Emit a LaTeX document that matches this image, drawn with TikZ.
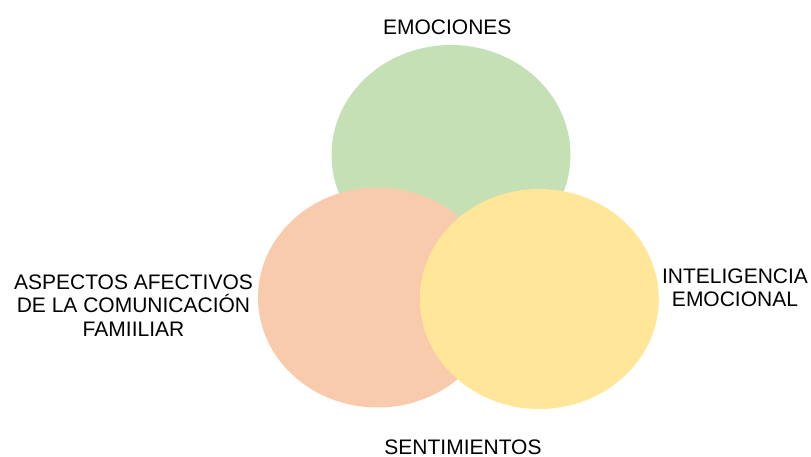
\documentclass[tikz,border=0pt]{standalone}
\usepackage{fontspec}
\setmainfont{Liberation Sans}
\usetikzlibrary{shapes.geometric}
\definecolor{cgreen}{HTML}{C5E0B4}
\definecolor{corange}{HTML}{F8CBAD}
\definecolor{cyellow}{HTML}{FFE699}
\tikzset{
  blob/.style={ellipse, inner sep=0pt, draw=none, minimum width=239pt, minimum height=220pt},
  lbl/.style={inner sep=0pt, font=\fontsize{21}{23.3}\selectfont, align=center, text=black}
}
\begin{document}
\begin{tikzpicture}[x=1pt,y=-1pt]
\useasboundingbox (0,0) rectangle (811,457);
\node[blob, fill=cgreen] (emo) at (451,155) {};
\node[blob, fill=corange] (asp) at (377.5,297.5) {};
\node[blob, fill=cyellow] (int) at (539.3,299) {};
\node[lbl, anchor=base] (temo) at (447.3,34.3) {EMOCIONES};
\node[lbl, anchor=base] (tsen) at (463,454.3) {SENTIMIENTOS};
\node[lbl, anchor=center] (tasp) at (133.5,305.5) {ASPECTOS AFECTIVOS\\DE LA COMUNICACIÓN\\FAMIILIAR};
\node[lbl, anchor=center] (tint) at (735,288) {INTELIGENCIA\\EMOCIONAL};
\end{tikzpicture}
\end{document}
